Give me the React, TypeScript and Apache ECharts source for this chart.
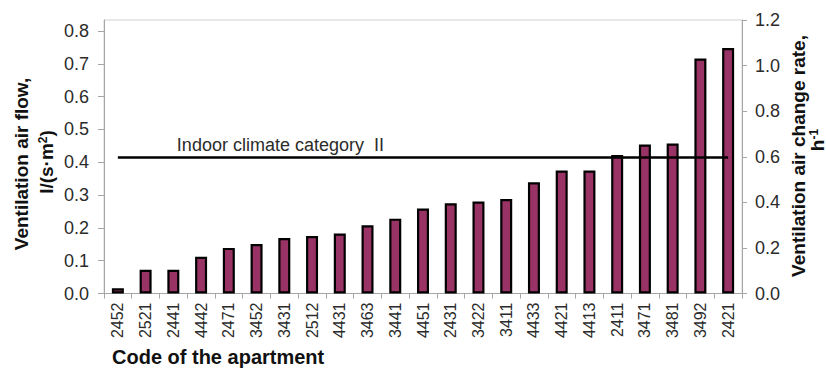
import React, { useEffect, useRef } from "react";
import * as echarts from "echarts";

// Apartments, sorted by measured ventilation air flow
const CODES = [
  "2452", "2521", "2441", "4442", "2471", "3452", "3431", "2512", "4431", "3463", "3441", "4451",
  "2431", "3422", "3411", "4433", "4421", "4413", "2411", "3471", "3481", "3492", "2421",
];

// Ventilation air flow, l/(s·m²)
const FLOW = [
  0.016, 0.072, 0.072, 0.112, 0.139, 0.151, 0.169, 0.175, 0.183, 0.208, 0.228, 0.259,
  0.275, 0.28, 0.288, 0.339, 0.375, 0.375, 0.422, 0.454, 0.457, 0.716, 0.748,
];

const FLOW_TICKS = [0, 0.1, 0.2, 0.3, 0.4, 0.5, 0.6, 0.7, 0.8];
const ACH_TICKS = [0, 0.2, 0.4, 0.6, 0.8, 1.0, 1.2];

// Air change rate h⁻¹ = flow l/(s·m²) · 3.6 / room height (m)
const ROOM_HEIGHT = 2.5;
const ACH_PER_FLOW = 3.6 / ROOM_HEIGHT;

// Indoor climate category II requirement, h⁻¹
const CATEGORY_II_ACH = 0.6;
const CATEGORY_II_LABEL = "Indoor climate category  II";

const FONT = "'Liberation Sans', Arial, Helvetica, sans-serif";
const AXIS_GREY = "#a6a6a6";
const LABEL_COLOR = "#2b2b2b";
const TITLE_COLOR = "#111111";

export default function App() {
  const ref = useRef<HTMLDivElement>(null);

  useEffect(() => {
    document.body.style.margin = "0";
    if (!ref.current) return;
    const chart = echarts.init(ref.current, undefined, { renderer: "svg" });

    const achMax = ACH_TICKS[ACH_TICKS.length - 1];
    const flowMax = achMax / ACH_PER_FLOW;
    const categoryIIFlow = CATEGORY_II_ACH / ACH_PER_FLOW;

    const titleStyle = {
      font: `bold 19px ${FONT}`,
      fill: TITLE_COLOR,
      align: "center",
      verticalAlign: "middle",
    };

    chart.setOption({
      animation: false,
      backgroundColor: "#ffffff",
      grid: {
        left: 104,
        right: 84,
        top: 20,
        bottom: 74.5,
        show: true,
        borderColor: "#d0d0d0",
        borderWidth: 1,
        outerBoundsMode: "none",
      },
      xAxis: {
        type: "category",
        data: CODES,
        boundaryGap: true,
        axisLine: { lineStyle: { color: AXIS_GREY, width: 1 } },
        axisTick: { show: true, length: 5, lineStyle: { color: AXIS_GREY } },
        axisLabel: {
          rotate: 90,
          margin: 9,
          interval: 0,
          fontSize: 16,
          fontFamily: FONT,
          color: LABEL_COLOR,
        },
        splitLine: { show: false },
      },
      yAxis: [
        {
          type: "value",
          position: "left",
          min: 0,
          max: flowMax,
          interval: 0.1,
          axisLine: { show: true, lineStyle: { color: AXIS_GREY, width: 1 } },
          axisTick: {
            show: true,
            length: 6,
            customValues: FLOW_TICKS,
            lineStyle: { color: AXIS_GREY },
          },
          axisLabel: {
            customValues: FLOW_TICKS,
            margin: 15,
            fontSize: 18,
            fontFamily: FONT,
            color: LABEL_COLOR,
            formatter: (v: number) => v.toFixed(1),
          },
          splitLine: { show: false },
        },
        {
          type: "value",
          position: "right",
          min: 0,
          max: achMax,
          interval: 0.2,
          axisLine: { show: true, lineStyle: { color: AXIS_GREY, width: 1 } },
          axisTick: { show: true, length: 5, lineStyle: { color: AXIS_GREY } },
          axisLabel: {
            margin: 13,
            fontSize: 18,
            fontFamily: FONT,
            color: LABEL_COLOR,
            formatter: (v: number) => v.toFixed(1),
          },
          splitLine: { show: false },
        },
      ],
      series: [
        {
          type: "bar",
          yAxisIndex: 0,
          data: FLOW,
          barWidth: 12,
          itemStyle: {
            color: "#993366",
            borderColor: "#000000",
            borderWidth: 2.2,
          },
          markLine: {
            silent: true,
            symbol: ["none", "none"],
            lineStyle: { color: "#000000", width: 2.5, type: "solid" },
            label: {
              show: true,
              position: "insideStartTop",
              distance: [59, 3],
              formatter: CATEGORY_II_LABEL,
              fontSize: 18,
              fontFamily: FONT,
              color: LABEL_COLOR,
            },
            data: [
              [
                { coord: [0, categoryIIFlow] },
                { coord: [CODES.length - 1, categoryIIFlow] },
              ],
            ],
          },
        },
      ],
      graphic: [
        {
          type: "text",
          x: 21,
          y: 164,
          rotation: Math.PI / 2,
          style: { ...titleStyle, text: "Ventilation air flow," },
        },
        {
          type: "text",
          x: 46,
          y: 162,
          rotation: Math.PI / 2,
          style: {
            ...titleStyle,
            text: "{b|l/(s·m}{s|2}{b|)}",
            rich: {
              b: { font: `bold 19px ${FONT}`, fill: TITLE_COLOR },
              s: { font: `bold 12px ${FONT}`, fill: TITLE_COLOR, verticalAlign: "top" },
            },
          },
        },
        {
          type: "text",
          x: 798,
          y: 156,
          rotation: Math.PI / 2,
          style: { ...titleStyle, text: "Ventilation air change rate," },
        },
        {
          type: "text",
          x: 817,
          y: 140,
          rotation: Math.PI / 2,
          style: {
            ...titleStyle,
            text: "{b|h}{s|-1}",
            rich: {
              b: { font: `bold 19px ${FONT}`, fill: TITLE_COLOR },
              s: { font: `bold 12px ${FONT}`, fill: TITLE_COLOR, verticalAlign: "top" },
            },
          },
        },
        {
          type: "text",
          x: 112,
          y: 357,
          style: {
            text: "Code of the apartment",
            font: `bold 20px ${FONT}`,
            fill: TITLE_COLOR,
            align: "left",
            verticalAlign: "middle",
          },
        },
      ],
    });

    return () => chart.dispose();
  }, []);

  return <div ref={ref} style={{ width: 826, height: 368 }} />;
}
